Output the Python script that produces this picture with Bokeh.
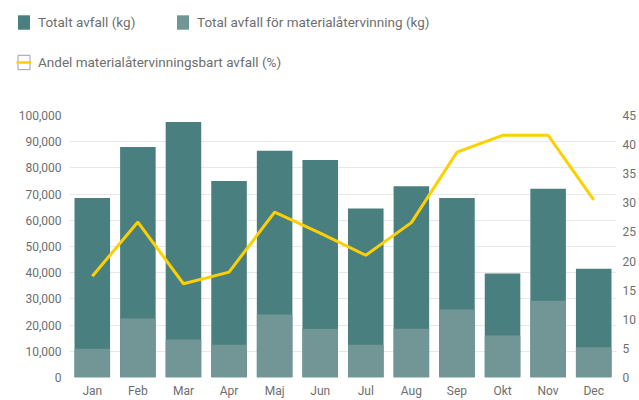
from bokeh.plotting import figure
from bokeh.layouts import column
from bokeh.models import (FactorRange, Range1d, LinearAxis, FixedTicker,
                          NumeralTickFormatter, Legend, LegendItem, ColumnDataSource)
from bokeh.embed import file_html
from bokeh.resources import INLINE

months = ["Jan", "Feb", "Mar", "Apr", "Maj", "Jun", "Jul", "Aug", "Sep", "Okt", "Nov", "Dec"]
total_kg = [68500, 88000, 97500, 75000, 86500, 83000, 64500, 73000, 68500, 39700, 72000, 41500]
material_kg = [11000, 22500, 14500, 12500, 24000, 18500, 12500, 18600, 26000, 16000, 29300, 11500]
share_pct = [17.4, 26.7, 16.1, 18.1, 28.4, 24.8, 21.0, 26.6, 38.7, 41.6, 41.6, 30.5]

series_labels = ["Totalt avfall (kg)", "Total avfall för materialåtervinning (kg)",
                 "Andel materialåtervinningsbart avfall (%)"]
left_ticks = list(range(0, 100001, 10000))
right_ticks = list(range(0, 46, 5))

DARK = "#4a7f7f"
LIGHT = "#729595"
YELLOW = "#ffd000"
TXT = "#6e6e6e"
FONT = "Roboto"

W = 639
LH = 90            # legend strip height
H = 400 - LH       # main chart height
FL, FR, FT, FB = 69, 616, 115 - LH, 378 - LH

# ---------- legend strip ----------
lf = figure(width=W, height=LH, x_range=Range1d(0, 1), y_range=Range1d(0, 1),
            output_backend="svg", toolbar_location=None,
            x_axis_location=None, y_axis_location=None,
            min_border=0, min_border_left=0, min_border_right=0,
            min_border_top=0, min_border_bottom=0)
lf.frame_align = False
lf.outline_line_color = None
lf.xgrid.visible = False
lf.ygrid.visible = False
# off-screen dummy renderers that only supply the legend swatches
d_total = lf.rect(x=[50], y=[50], width=1, height=1, fill_color=DARK, line_color=None)
d_mat = lf.rect(x=[50], y=[50], width=1, height=1, fill_color=LIGHT, line_color=None)
d_box = lf.rect(x=[50], y=[50], width=1, height=1, fill_color="white", line_color="#a0a0a0", line_width=1)
d_line = lf.line(x=[50, 51], y=[50, 51], line_color=YELLOW, line_width=2.5)

def mk_legend(items, loc):
    return Legend(items=items, location=loc, orientation="horizontal",
                  border_line_color=None, background_fill_alpha=0,
                  padding=0, margin=0, spacing=0,
                  glyph_width=15, glyph_height=18, label_height=18,
                  label_standoff=7, label_text_font=FONT, label_text_font_size="13.5px",
                  label_text_color=TXT)

lf.add_layout(mk_legend([LegendItem(label=series_labels[0], renderers=[d_total])], (16, LH - 31)), "center")
lf.add_layout(mk_legend([LegendItem(label=series_labels[1], renderers=[d_mat])], (175, LH - 31)), "center")
lf.add_layout(mk_legend([LegendItem(label=series_labels[2], renderers=[d_box, d_line])], (16, LH - 71)), "center")

# ---------- main chart ----------
p = figure(width=W, height=H, x_range=FactorRange(*months, range_padding=0),
           y_range=Range1d(0, 100000), output_backend="svg", toolbar_location=None,
           min_border_left=FL, min_border_right=W - FR, min_border_top=FT,
           min_border_bottom=H - FB)
p.frame_align = False
p.extra_y_ranges = {"pct": Range1d(0, 45)}
p.outline_line_color = None
p.background_fill_color = "white"

src = ColumnDataSource(dict(m=months, t=total_kg, k=material_kg, s=share_pct))
p.vbar(x="m", top="t", width=0.78, source=src, fill_color=DARK, line_color=None)
p.vbar(x="m", top="k", width=0.78, source=src, fill_color=LIGHT, line_color=None)
p.line(x="m", y="s", source=src, y_range_name="pct", line_color=YELLOW, line_width=3)

p.xgrid.grid_line_color = None
p.ygrid.grid_line_color = "#e8e8e8"
p.ygrid.ticker = FixedTicker(ticks=left_ticks)

rax = LinearAxis(y_range_name="pct", ticker=FixedTicker(ticks=right_ticks))
p.add_layout(rax, "right")

for ax in [p.xaxis[0], p.yaxis[0], rax]:
    ax.axis_line_color = None
    ax.major_tick_line_color = None
    ax.minor_tick_line_color = None
    ax.major_tick_out = 0
    ax.major_tick_in = 0
    ax.minor_tick_out = 0
    ax.minor_tick_in = 0
    ax.major_label_text_color = TXT
    ax.major_label_text_font = FONT
    ax.major_label_text_font_size = "12px"
p.xaxis.major_label_standoff = 6
p.yaxis[0].ticker = FixedTicker(ticks=left_ticks)
p.yaxis[0].formatter = NumeralTickFormatter(format="0,0")
p.yaxis[0].major_label_standoff = 8
rax.major_label_standoff = 6

layout = column(lf, p, spacing=0)
open("out.html", "w").write(file_html(layout, INLINE))
